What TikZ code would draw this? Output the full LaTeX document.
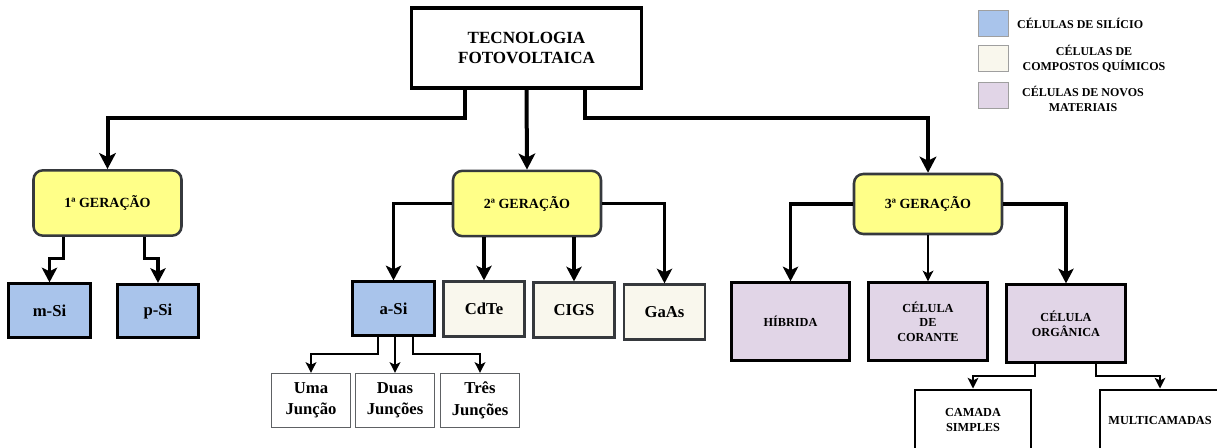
\documentclass[tikz,border=0pt]{standalone}
\usepackage{fontspec}
\setmainfont{Liberation Serif}
\usepackage{tikz}
\usetikzlibrary{positioning,arrows.meta}
\definecolor{amarelo}{HTML}{FFFF88}
\definecolor{azulclaro}{HTML}{A9C4EB}
\definecolor{bege}{HTML}{F9F7ED}
\definecolor{lilas}{HTML}{E1D5E7}
\definecolor{cinza}{HTML}{36393D}

\begin{document}
\begin{tikzpicture}[
  x=0.75pt, y=-0.75pt,
  font=\bfseries,
  caixa/.style={draw, align=center, inner sep=2pt, line width=2.2pt},
  geracao/.style={caixa, draw=cinza, fill=amarelo, rounded corners=7pt, line width=1.9pt,
    minimum width=111pt, minimum height=49pt, font=\bfseries\fontsize{10.5}{12}\selectfont},
  silicio/.style={caixa, fill=azulclaro, minimum width=61pt, minimum height=40pt,
    font=\bfseries\fontsize{12.5}{15}\selectfont},
  composto/.style={caixa, draw=cinza, fill=bege, line width=1.9pt, minimum width=61pt, minimum height=41pt,
    font=\bfseries\fontsize{12.5}{15}\selectfont},
  juncao/.style={caixa, draw=cinza!80, line width=0.9pt, minimum width=59pt, minimum height=40.5pt,
    font=\bfseries\fontsize{12.5}{16}\selectfont},
  novo/.style={caixa, fill=lilas, minimum width=89pt, minimum height=58pt,
    font=\bfseries\fontsize{9.2}{11}\selectfont},
  folha/.style={caixa, minimum width=87pt, minimum height=45pt,
    font=\bfseries\fontsize{9.2}{11}\selectfont},
  amostra/.style={draw=gray!75, line width=0.6pt, minimum width=22.5pt, minimum height=19.5pt, inner sep=0pt},
  legenda/.style={align=center, font=\bfseries\fontsize{9}{11.5}\selectfont},
  setagrossa/.style={-{Stealth[length=12pt, width=12.5pt, inset=3pt]}, line width=3pt},
  seta/.style={-{Stealth[length=11pt, width=11.5pt, inset=2.7pt]}, line width=2.3pt},
  setafina/.style={-{Stealth[length=8pt, width=8pt, inset=2pt]}, line width=1.5pt}
]
  \useasboundingbox (0,0) rectangle (1217,448);
  \clip (0,0) rectangle (1217,448);

  % raiz
  \node[caixa, line width=2.3pt, minimum width=173pt, minimum height=60pt,
    font=\bfseries\fontsize{12.8}{14.5}\selectfont] (tec) at (526.5,48) {TECNOLOGIA\\FOTOVOLTAICA};

  % geracoes
  \node[geracao] (gen1) at (107.5,203) {1ª GERAÇÃO};
  \node[geracao] (gen2) at (527,203.5) {2ª GERAÇÃO};
  \node[geracao, minimum height=45pt] (gen3) at (928,204) {3ª GERAÇÃO};

  % celulas
  \node[silicio] (msi) at (49.5,310.5) {m-Si};
  \node[silicio] (psi) at (158,311) {p-Si};
  \node[silicio] (asi) at (393.5,308.5) {a-Si};
  \node[composto] (cdte) at (484,309) {CdTe};
  \node[composto] (cigs) at (574,310) {CIGS};
  \node[composto] (gaas) at (664.5,312) {GaAs};
  \node[juncao] (uma) at (311,400.5) {Uma\\Junção};
  \node[juncao] (duas) at (395,400.5) {Duas\\Junções};
  \node[juncao] (tres) at (480,400.5) {Três\\Junções};
  \node[novo] (hib) at (790.5,321.5) {HÍBRIDA};
  \node[novo] (cor) at (928,321.5) {CÉLULA\\DE\\CORANTE};
  \node[novo] (org) at (1066,323.5) {CÉLULA\\ORGÂNICA};
  \node[folha] (cam) at (973,420) {CAMADA\\SIMPLES};
  \node[folha, minimum width=90pt] (multi) at (1160,420) {MULTICAMADAS};

  % legenda
  \node[amostra, fill=azulclaro] (leg1) at (993,23) {};
  \node[amostra, fill=bege] (leg2) at (993,58.5) {};
  \node[amostra, fill=lilas] (leg3) at (993,95) {};
  \node[legenda, right=3pt of leg1] (tleg1) {CÉLULAS DE SILÍCIO};
  \node[legenda] (tleg2) at (1094,59) {CÉLULAS DE\\COMPOSTOS QUÍMICOS};
  \node[legenda] (tleg3) at (1083,99) {CÉLULAS DE NOVOS\\MATERIAIS};

  % ligacoes
  \draw[setagrossa] ([xshift=-46pt]tec.south) -- ++(0,28) -| (gen1);
  \draw[setagrossa] (tec.south) -- (gen2.north);
  \draw[setagrossa] ([xshift=44pt]tec.south) -- ++(0,28) -| (gen3);

  \draw[seta] ([xshift=-33pt]gen1.south) -- ++(0,22) -| (msi);
  \draw[seta] ([xshift=28pt]gen1.south) -- ++(0,22) -| (psi);

  \draw[seta] (gen2.west) -| (asi);
  \draw[seta] (gen2.south -| cdte) -- (cdte);
  \draw[seta] (gen2.south -| cigs) -- (cigs);
  \draw[seta] (gen2.east) -| (gaas);

  \draw[setafina] ([xshift=-11.6pt]asi.south) -- ++(0,17) -| (uma);
  \draw[setafina] (asi.south -| duas) -- (duas);
  \draw[setafina] ([xshift=14.6pt]asi.south) -- ++(0,17) -| (tres);

  \draw[seta] (gen3.west) -| (hib);
  \draw[setafina] (gen3) -- (cor);
  \draw[seta] (gen3.east) -| (org);

  \draw[setafina] ([xshift=-23pt]org.south) -- ++(0,12) -| (cam);
  \draw[setafina] ([xshift=22.5pt]org.south) -- ++(0,12) -| (multi);
\end{tikzpicture}
\end{document}
